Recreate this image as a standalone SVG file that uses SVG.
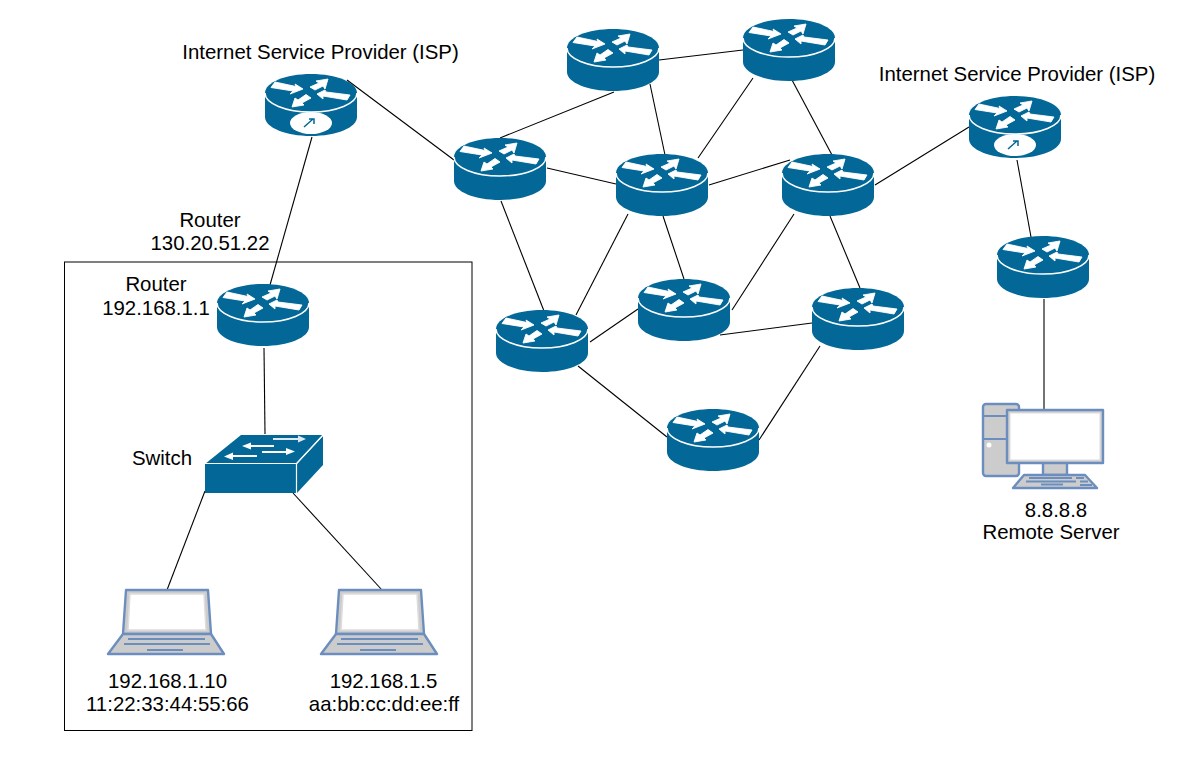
<svg xmlns="http://www.w3.org/2000/svg" width="1180" height="760" viewBox="0 0 1180 760">
<style>
.bg{fill:#fff}
.box{fill:none;stroke:#000;stroke-width:1}
#connectors line{stroke:#000;stroke-width:1.1}
.b{fill:#036897}
.w{fill:#fff}
.a{fill:#fff;stroke:#fff;stroke-width:.9;stroke-linejoin:round}
.sep{fill:none;stroke:#fff;stroke-width:1.5}
.g{fill:#ccc;stroke:#6c8ebf;stroke-width:2.400;stroke-linejoin:round}
.s{fill:#fff;stroke:#ddd;stroke-width:1.5}
.k{fill:none;stroke:#6c8ebf;stroke-width:2.200}
text{font-family:"Liberation Sans",Arial,sans-serif;font-size:20.4px;fill:#000;text-anchor:middle}
</style>
<defs>
<g id="router">
<path class="b" d="M0 19V43C0 53.500 20.600 62 46 62S92 53.500 92 43V19C92 8.500 71.400 0 46 0S0 8.500 0 19Z"/>
<path class="sep" d="M0 19C0 29.500 20.600 38 46 38S92 29.500 92 19"/>
<polygon class="a" points="6,13.500 10,8 31,12.500 30,10 38,15 25,20 28,17"/>
<polygon class="a" points="45,13 54,9 51,7 63,5 60,15 58,12 50,16"/>
<polygon class="a" points="52,20 60,16 61,18 85,21 82,26 58,22 58,25"/>
<polygon class="a" points="27,33 30,24 33,26 41,20.500 46,24 37,29 39,31"/>
</g>
<g id="gauge">
<ellipse class="w" cx="46" cy="49" rx="21" ry="11"/>
<path d="M39 53L48 45M44 45H49V50" fill="none" stroke="#036897" stroke-width="1.500"/>
</g>
<g id="laptop">
<polygon class="g" points="19,2 101,2 104,46 16,46"/>
<polygon class="s" points="23,6 97,6 99,42 21,42"/>
<polygon class="g" points="16,46 104,46 117,66 1,66"/>
<path class="k" d="M21 51H98M17 56H103M40 62H76"/>
</g>
</defs>
<rect class="bg" width="1180" height="760"/>
<rect id="lan-box" class="box" x="64.500" y="262" width="407.500" height="468.500"/>
<g id="connectors">
<line x1="347" y1="80" x2="454" y2="160"/>
<line x1="312" y1="137" x2="270" y2="285"/>
<line x1="264" y1="348" x2="265" y2="434"/>
<line x1="205" y1="491" x2="167" y2="590"/>
<line x1="293" y1="493" x2="382" y2="590"/>
<line x1="500" y1="138" x2="614" y2="92"/>
<line x1="659" y1="60" x2="743" y2="50"/>
<line x1="650" y1="84" x2="665" y2="155"/>
<line x1="753" y1="78" x2="698" y2="158"/>
<line x1="792" y1="80" x2="832" y2="155"/>
<line x1="547" y1="168" x2="616" y2="184"/>
<line x1="709" y1="185" x2="790" y2="160"/>
<line x1="875" y1="185" x2="969" y2="127"/>
<line x1="1017" y1="160" x2="1031" y2="237"/>
<line x1="1044" y1="299" x2="1044" y2="410"/>
<line x1="501" y1="201" x2="544" y2="311"/>
<line x1="628" y1="214" x2="576" y2="315"/>
<line x1="663" y1="216" x2="684" y2="279"/>
<line x1="794" y1="214" x2="732" y2="310"/>
<line x1="830" y1="216" x2="860" y2="288"/>
<line x1="590" y1="342" x2="638" y2="309"/>
<line x1="720" y1="335" x2="812" y2="323"/>
<line x1="578" y1="366" x2="667" y2="437"/>
<line x1="820" y1="346" x2="759" y2="440"/>
</g>
<g id="isp-left"><use href="#router" x="265" y="74"/><use href="#gauge" x="265" y="74"/><text x="320.500" y="59">Internet Service Provider (ISP)</text></g>
<g id="isp-right"><use href="#router" x="969" y="96"/><use href="#gauge" x="969" y="96"/><text x="1017" y="81">Internet Service Provider (ISP)</text></g>
<g id="router-t1"><use href="#router" x="567" y="29"/></g>
<g id="router-t2"><use href="#router" x="743" y="19"/></g>
<g id="router-m1"><use href="#router" x="454" y="138"/></g>
<g id="router-m2"><use href="#router" x="616" y="154"/></g>
<g id="router-m3"><use href="#router" x="782" y="154"/></g>
<g id="router-l1"><use href="#router" x="638" y="279"/></g>
<g id="router-l2"><use href="#router" x="812" y="288"/></g>
<g id="router-l3"><use href="#router" x="496" y="310"/></g>
<g id="router-l4"><use href="#router" x="667" y="409"/></g>
<g id="router-right"><use href="#router" x="997" y="236"/></g>
<g id="wan-label"><text x="210" y="227">Router</text><text x="210" y="250">130.20.51.22</text></g>
<g id="router-home"><use href="#router" x="217" y="284"/><text x="156" y="291">Router</text><text x="156" y="315">192.168.1.1</text></g>
<g id="switch">
<polygon class="b" points="205,464 241,435 323,435 296,464"/>
<polygon class="b" points="297,493 323,465 323,436 297,464"/>
<rect class="b" x="205" y="464" width="91" height="29"/>
<path d="M205 463.500H296.500V493M296.500 463.500L323 435" fill="none" stroke="#fff" stroke-width="1.200"/>
<path d="M273 438H298V435.500L306 439L298 442.500V440H273Z" fill="#dfe8ee"/>
<path class="w" d="M274 445H251V442.500L242 446L251 449.500V447H274ZM262 451H286V448L295 451.500L286 455V453H262ZM257 455H233V452.500L224 456.500L233 460V457H257Z"/>
<text x="162" y="465">Switch</text>
</g>
<g id="laptop-a"><use href="#laptop" x="107" y="588"/><text x="167.500" y="688">192.168.1.10</text><text x="167.500" y="711">11:22:33:44:55:66</text></g>
<g id="laptop-b"><use href="#laptop" x="320" y="588"/><text x="383.500" y="688">192.168.1.5</text><text x="384" y="711">aa:bb:cc:dd:ee:ff</text></g>
<g id="server">
<rect class="g" x="983" y="404" width="36" height="72" rx="3"/>
<path class="k" d="M983 416H1008M983 439H1008"/>
<circle class="w" cx="989" cy="445" r="2.500"/>
<rect class="g" x="1043" y="462" width="24" height="13"/>
<rect class="g" x="1007" y="410" width="96" height="53"/>
<rect x="1010" y="413" width="90" height="47" fill="#fff" stroke="#ddd" stroke-width="1"/>
<polygon class="g" points="1024,475 1085,475 1097,488 1013,488"/>
<path class="k" d="M1029 478H1072M1076 478H1084M1026 481.500H1076M1080 481.500H1088M1041 484.500H1063M1080 485H1092"/>
<text x="1056" y="517">8.8.8.8</text>
<text x="1051" y="539">Remote Server</text>
</g>
</svg>
